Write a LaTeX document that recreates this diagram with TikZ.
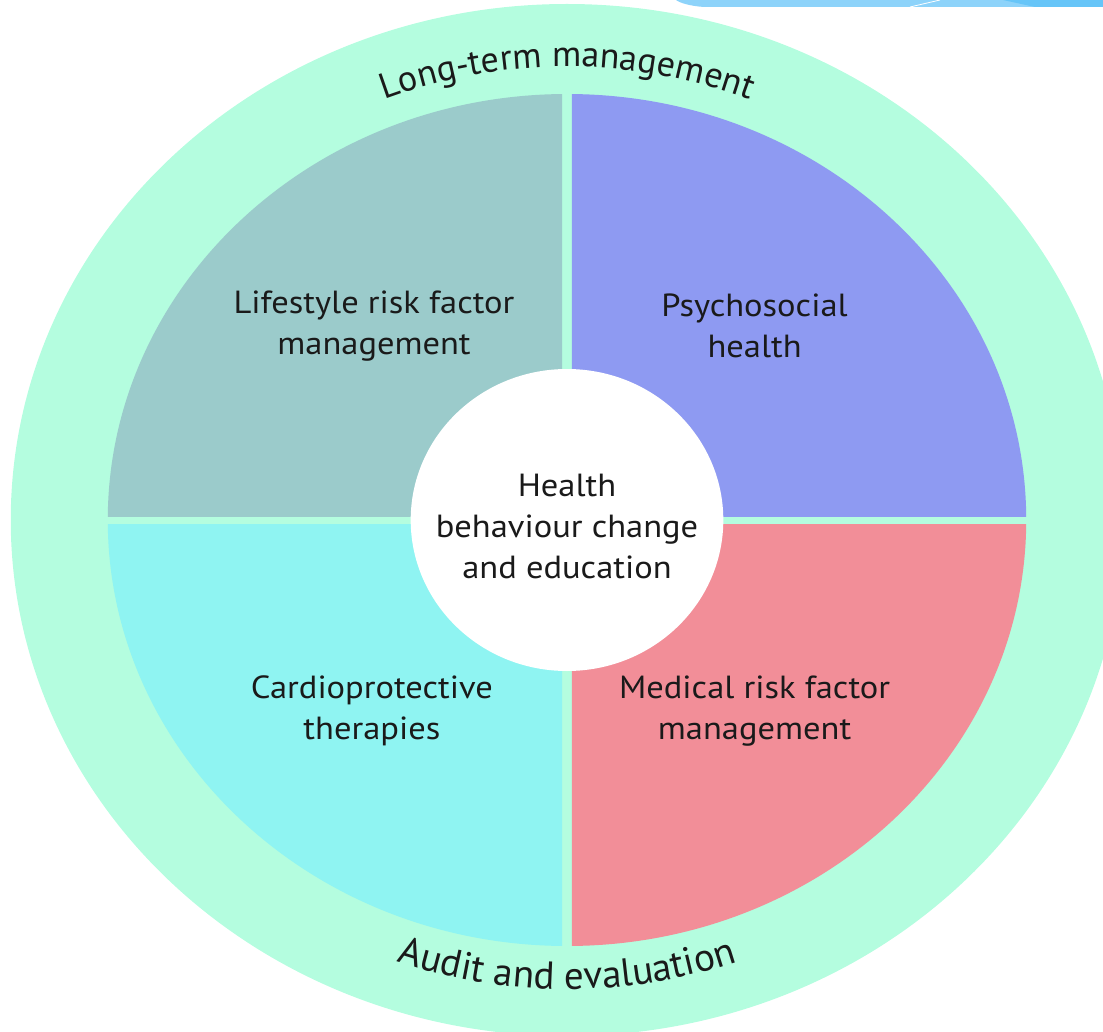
\documentclass[tikz,border=0pt]{standalone}
\usepackage{fontspec}
\setmainfont{PT Sans}
\usetikzlibrary{decorations.text}
\definecolor{ringc}{HTML}{B4FDDF}
\definecolor{tealq}{HTML}{9BCBCB}
\definecolor{blueq}{HTML}{8E9AF2}
\definecolor{cyanq}{HTML}{8FF4F2}
\definecolor{pinkq}{HTML}{F28E98}
\definecolor{bandl}{HTML}{8DD3FA}
\definecolor{bandd}{HTML}{66C5F8}
\definecolor{txt}{HTML}{1A1A1A}
\tikzset{
  lbl/.style={align=center, text=txt, font=\fontsize{32}{41}\selectfont, inner sep=0pt},
  arclbl/.style={decorate, font=\fontsize{37}{37}\selectfont, decoration={text along path, text align=center,
     text format delimiters={|}{|}, text color=txt}}
}
\begin{document}
\begin{tikzpicture}[x=1pt,y=1pt]
\useasboundingbox (0,0) rectangle (1103,-1032);
\begin{scope}
\clip (0,0) rectangle (1103,-1032);
\begin{scope}[shift={(567,-520)}, xscale=1.078, transform shape]
  \fill[ringc] (0,0) circle (516);
  \begin{scope}\clip (-4.6,4) rectangle (-520,520); \fill[tealq] (0,0) circle (426); \end{scope}
  \begin{scope}\clip (4.6,4) rectangle (520,520); \fill[blueq] (0,0) circle (426); \end{scope}
  \begin{scope}\clip (-4.6,-4) rectangle (-520,-520); \fill[cyanq] (0,0) circle (426); \end{scope}
  \begin{scope}\clip (4.6,-4) rectangle (520,-520); \fill[pinkq] (0,0) circle (426); \end{scope}
  \fill[white] (0,0) ellipse (145 and 151);
  \node[lbl] (life) at (-179,194) {Lifestyle risk factor\\management};
  \node[lbl] (psy) at (174,194) {Psychosocial\\health};
  \node[lbl] (cardio) at (-181,-191) {Cardioprotective\\therapies};
  \node[lbl] (med) at (174,-191) {Medical risk factor\\management};
  \node[lbl] (core) at (0,-6) {Health\\behaviour change\\and education};
\end{scope}
\coordinate (ctr) at (567,-520);
\path[arclbl, decoration={text={|\fontsize{36}{36}\selectfont|Long-term management}}]
   (ctr) ++(155:492 and 453) arc[start angle=155, end angle=25, x radius=492, y radius=453];
\path[arclbl, decoration={text={|\fontsize{39}{39}\selectfont|Audit and evaluation}}]
   (ctr) ++(205:506 and 469) arc[start angle=205, end angle=335, x radius=506, y radius=469];
% slide header band
\fill[bandl] (676,0) -- (1103,0) -- (1103,-7) -- (704,-7) .. controls (690,-6) and (680,-3) .. (676,0) -- cycle;
\fill[bandd] (1003,0) -- (1103,0) -- (1103,-7) -- (1035,-7) -- cycle;
\draw[white, line width=0.8pt] (910,-7) -- (940,0);
\end{scope}
\end{tikzpicture}
\end{document}
